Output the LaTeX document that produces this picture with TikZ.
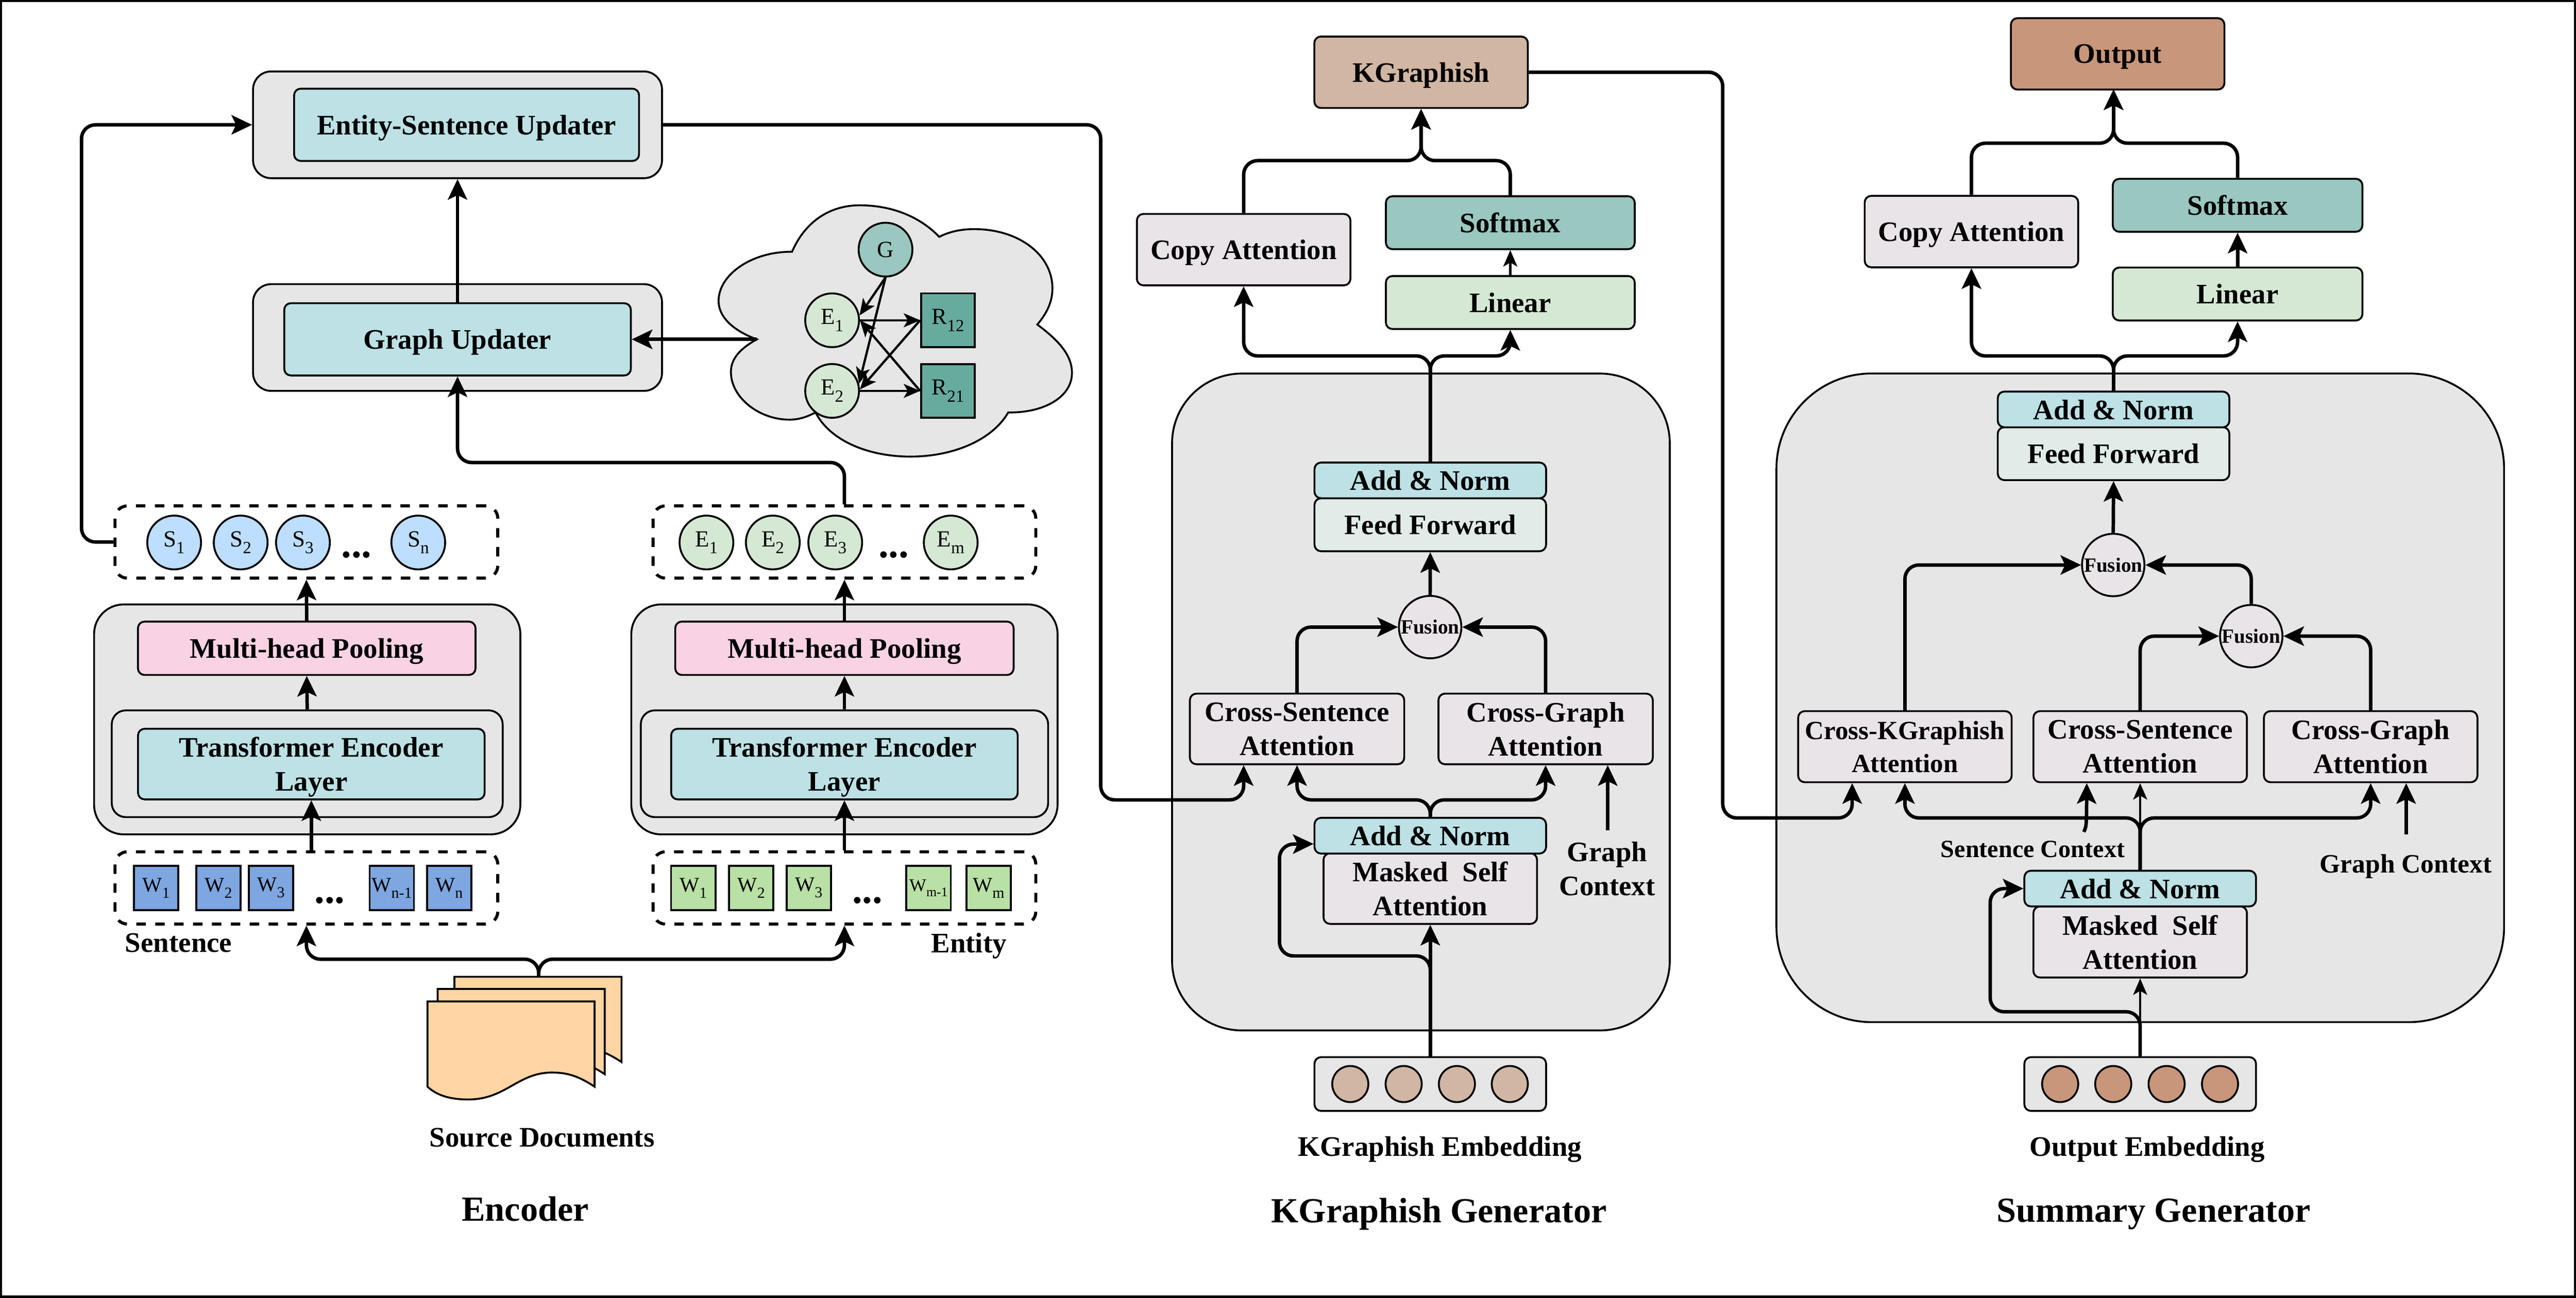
\documentclass[tikz,border=0pt]{standalone}
\usepackage{fontspec}
\setmainfont{Liberation Serif}
\usepackage{tikz}
\usetikzlibrary{arrows.meta}
\definecolor{greybg}{HTML}{E6E6E6}
\definecolor{tealbox}{HTML}{BDE1E5}
\definecolor{pinkbox}{HTML}{F9D2E4}
\definecolor{sblue}{HTML}{BDDEFF}
\definecolor{wblue}{HTML}{7EA6E0}
\definecolor{wgreen}{HTML}{B9E0A5}
\definecolor{egreen}{HTML}{D5E8D4}
\definecolor{gteal}{HTML}{9AC7BF}
\definecolor{rteal}{HTML}{67AB9F}
\definecolor{docorange}{HTML}{FFD5A3}
\definecolor{attnbox}{HTML}{E9E4E8}
\definecolor{ffbox}{HTML}{E1ECE9}
\definecolor{kgbrown}{HTML}{D1B6A3}
\definecolor{outbrown}{HTML}{C8967A}
\tikzset{
  block/.style={draw,rounded corners=0.08cm,line width=0.65pt,inner sep=0,align=center,text depth=0pt,
    font=\fontsize{9.8}{11.8}\selectfont\bfseries},
  outerbox/.style={draw,fill=greybg,rounded corners=0.22cm,line width=0.65pt,inner sep=0},
  dashbox/.style={draw,rounded corners=0.15cm,line width=1.05pt,dash pattern=on 0.115cm off 0.115cm,
    minimum width=4.66cm,minimum height=0.88cm,inner sep=0},
  tok/.style={draw,circle,line width=0.65pt,minimum size=0.655cm,inner sep=0,font=\fontsize{8}{10}\selectfont},
  wtok/.style={draw,rectangle,line width=0.65pt,minimum size=0.54cm,inner sep=0,font=\fontsize{7.2}{9}\selectfont},
  embtok/.style={draw,circle,line width=0.65pt,minimum size=0.44cm,inner sep=0},
  fusionnode/.style={draw,circle,fill=attnbox,line width=0.65pt,minimum size=0.76cm,inner sep=0,
    font=\fontsize{7}{8}\selectfont\bfseries},
  lbl/.style={inner sep=0,align=center,text depth=0pt,font=\fontsize{9.8}{11.8}\selectfont\bfseries},
  titlelbl/.style={inner sep=0,text depth=0pt,font=\fontsize{12.2}{14}\selectfont\bfseries},
  dotslbl/.style={inner sep=0,anchor=base,font=\fontsize{14}{16}\selectfont\bfseries},
  conn/.style={line width=1.2pt,rounded corners=0.17cm,-{Stealth[length=0.25cm,width=0.235cm,inset=0.055cm]}},
  thinconn/.style={line width=0.8pt,-{Stealth[length=0.2cm,width=0.17cm,inset=0.05cm]}},
  docsheet/.style={draw,fill=docorange,line width=0.65pt}
}
\newcommand{\lowsub}[1]{\raisebox{-0.3em}{\scalebox{0.74}{#1}}}
\newcommand{\docoutline}{(260.2,609.7) -- (361.9,609.7) -- (361.9,661.6) .. controls (352,655) and (345,653) .. (336,653) .. controls (315,653) and (308,669.4) .. (285,669.4) .. controls (274,669.4) and (266,667) .. (260.2,661.6) -- cycle}
\begin{document}
\begin{tikzpicture}[x=0.02cm,y=-0.02cm]
\useasboundingbox (0,0) rectangle (1568,790);
\draw[line width=1.6pt] (0,0) rectangle (1568,790);

% encoder
\node[outerbox,minimum width=4.98cm,minimum height=1.30cm] (esout) at (278.5,76) {};
\node[block,fill=tealbox,minimum width=4.2cm,minimum height=0.88cm] (esin) at (284,76) {Entity-Sentence Updater};
\node[outerbox,minimum width=4.98cm,minimum height=1.30cm] (guout) at (278.5,205.5) {};
\node[block,fill=tealbox,minimum width=4.22cm,minimum height=0.88cm] (guin) at (278.5,206.6) {Graph Updater};

\draw[fill=greybg,line width=0.65pt] (482.1,153.3) .. controls (490,135) and (505,125) .. (523.3,125) .. controls (543,125) and (560,132) .. (571.7,144.2) .. controls (578,141) and (585,139.5) .. (593,139.5) .. controls (620,139.5) and (640.6,155) .. (640.6,175.6) .. controls (640.6,184) and (637,191) .. (631.4,197.6) .. controls (644,207) and (652.5,216) .. (652.5,227) .. controls (652.5,242) and (635,251.5) .. (613.7,251.1) .. controls (604,268) and (580,278) .. (554.2,278) .. controls (528,278) and (505,268) .. (496.4,251.1) .. controls (491,254) and (486,255.5) .. (480.5,255.5) .. controls (462,255.5) and (444.9,242) .. (444.9,226.5) .. controls (444.9,218) and (451,212) .. (460.7,206.6) .. controls (448,202) and (437.4,194) .. (437.4,183.2) .. controls (437.4,167) and (458,153) .. (482.1,153.3) -- cycle;
\coordinate (cloudtip) at (460.7,206.6);
\node[tok,fill=gteal] (gnode) at (539,152) {G};
\node[tok,fill=egreen] (e1node) at (506.5,195) {E\lowsub{1}};
\node[tok,fill=egreen] (e2node) at (506.5,238) {E\lowsub{2}};
\node[wtok,fill=rteal,minimum size=0.655cm,font=\fontsize{8}{10}\selectfont] (r12node) at (577,195) {R\lowsub{12}};
\node[wtok,fill=rteal,minimum size=0.655cm,font=\fontsize{8}{10}\selectfont] (r21node) at (577,238) {R\lowsub{21}};
\draw[thinconn] (gnode.south) -- (e1node.10);
\draw[thinconn] (gnode.south) -- (e2node.15);
\draw[thinconn] (e1node.east) -- (r12node.west);
\draw[thinconn] (e2node.east) -- (r21node.west);
\draw[thinconn] (r12node.west) -- (e2node.3);
\draw[thinconn] (r21node.west) -- (e1node.east);

\node[dashbox] (sdash) at (186.5,330) {};
\node[tok,fill=sblue] (s1) at (106,330.3) {S\lowsub{1}};
\node[tok,fill=sblue] (s2) at (146.5,330.3) {S\lowsub{2}};
\node[tok,fill=sblue] (s3) at (184.4,330.3) {S\lowsub{3}};
\node[dotslbl] (sdots) at (217,339.5) {...};
\node[tok,fill=sblue] (sn) at (254.6,330.3) {S\lowsub{n}};
\node[dashbox] (edash) at (514,330) {};
\node[tok,fill=egreen] (ent1) at (430,330.3) {E\lowsub{1}};
\node[tok,fill=egreen] (ent2) at (470.4,330.3) {E\lowsub{2}};
\node[tok,fill=egreen] (ent3) at (508.4,330.3) {E\lowsub{3}};
\node[dotslbl] (edots) at (544,339.5) {...};
\node[tok,fill=egreen] (entm) at (578.7,330.3) {E\lowsub{m}};

\node[outerbox,rounded corners=0.36cm,minimum width=5.19cm,minimum height=2.80cm] (senc) at (187,438) {};
\node[outerbox,rounded corners=0.17cm,minimum width=4.76cm,minimum height=1.30cm] (stfout) at (187,465) {};
\node[block,fill=pinkbox,minimum width=4.11cm,minimum height=0.65cm] (smh) at (186.7,394.7) {Multi-head Pooling};
\node[block,fill=tealbox,minimum width=4.22cm,minimum height=0.86cm] (stf) at (189.5,465.2) {Transformer Encoder\\Layer};
\node[outerbox,rounded corners=0.36cm,minimum width=5.19cm,minimum height=2.80cm] (eenc) at (514,438) {};
\node[outerbox,rounded corners=0.17cm,minimum width=4.96cm,minimum height=1.30cm] (etfout) at (514,465) {};
\node[block,fill=pinkbox,minimum width=4.12cm,minimum height=0.65cm] (emh) at (514,394.7) {Multi-head Pooling};
\node[block,fill=tealbox,minimum width=4.22cm,minimum height=0.86cm] (etf) at (514,465.2) {Transformer Encoder\\Layer};

\node[dashbox] (wsdash) at (186.5,540.6) {};
\node[wtok,fill=wblue] (ws1) at (95,540.6) {W\lowsub{1}};
\node[wtok,fill=wblue] (ws2) at (133,540.6) {W\lowsub{2}};
\node[wtok,fill=wblue] (ws3) at (165,540.6) {W\lowsub{3}};
\node[dotslbl] (wsdots) at (200.7,550) {...};
\node[wtok,fill=wblue] (wsn1) at (238.5,540.6) {W\lowsub{n-1}};
\node[wtok,fill=wblue] (wsn) at (273.4,540.6) {W\lowsub{n}};
\node[dashbox] (wedash) at (514,540.6) {};
\node[wtok,fill=wgreen] (we1) at (422,540.6) {W\lowsub{1}};
\node[wtok,fill=wgreen] (we2) at (457.3,540.6) {W\lowsub{2}};
\node[wtok,fill=wgreen] (we3) at (492.3,540.6) {W\lowsub{3}};
\node[dotslbl] (wedots) at (528,550) {...};
\node[wtok,fill=wgreen,font=\fontsize{6.2}{8}\selectfont] (wem1) at (565.2,540.6) {W\lowsub{m-1}};
\node[wtok,fill=wgreen] (wem) at (601.8,540.6) {W\lowsub{m}};
\node[lbl] (sentlbl) at (108.7,574) {Sentence};
\node[lbl] (entlbl) at (589.8,574) {Entity};

\draw[docsheet,shift={(16.4,-15)}] \docoutline;
\draw[docsheet,shift={(6.2,-7.6)}] \docoutline;
\draw[docsheet] \docoutline;
\coordinate (doctop) at (327.9,594.6);
\coordinate (docjoin) at (327.9,584);
\node[lbl] (doclbl) at (330,692.5) {Source Documents};
\node[titlelbl] (enctitle) at (319.7,736) {Encoder};

\draw[conn] (doctop) -- (docjoin) -| (wsdash.south);
\draw[conn] (doctop) -- (docjoin) -| (wedash.south);
\draw[conn] (stf.south |- wsdash.north) -- (stf.south);
\draw[conn] (etf.south |- wedash.north) -- (etf.south);
\draw[conn] (stfout.north) -- (smh.south);
\draw[conn] (etfout.north) -- (emh.south);
\draw[conn] (smh.north) -- (sdash.south);
\draw[conn] (emh.north) -- (edash.south);
\draw[conn] (sdash.west) -| (49.6,76) -- (esout.west);
\draw[conn] (edash.north) -- (514,281.6) -| (guin.south);
\draw[conn] (guin.north) -- (esout.south);
\draw[conn] (cloudtip) -- (guin.east);

% kgraphish generator
\node[outerbox,rounded corners=0.85cm,minimum width=6.06cm,minimum height=8.0cm] (kbig) at (864.9,427.4) {};
\node[block,fill=kgbrown,minimum width=2.6cm,minimum height=0.87cm] (kgout) at (865,44) {KGraphish};
\node[block,fill=attnbox,minimum width=2.6cm,minimum height=0.87cm] (kcopy) at (757,152) {Copy Attention};
\node[block,fill=gteal,minimum width=3.03cm,minimum height=0.645cm] (ksoft) at (919.3,135.6) {Softmax};
\node[block,fill=egreen,minimum width=3.03cm,minimum height=0.645cm] (klin) at (919.3,184.2) {Linear};
\node[block,fill=ffbox,minimum width=2.82cm,minimum height=0.645cm] (kff) at (870.6,319.5) {Feed Forward};
\node[block,fill=tealbox,minimum width=2.82cm,minimum height=0.435cm] (kan) at (870.6,292.5) {Add \& Norm};
\node[fusionnode] (kfus) at (870.5,381.8) {Fusion};
\node[block,fill=attnbox,minimum width=2.61cm,minimum height=0.86cm] (kcs) at (789.5,443.8) {Cross-Sentence\\Attention};
\node[block,fill=attnbox,minimum width=2.61cm,minimum height=0.86cm] (kcg) at (940.8,443.8) {Cross-Graph\\Attention};
\node[block,fill=attnbox,minimum width=2.6cm,minimum height=0.86cm] (kms) at (870.6,541) {Masked~~Self\\Attention};
\node[block,fill=tealbox,minimum width=2.82cm,minimum height=0.435cm] (kan2) at (870.6,508.8) {Add \& Norm};
\node[lbl] (kgctx) at (978.3,529) {Graph\\Context};
\coordinate (kgctxtop) at (978.6,505.5);
\node[block,fill=greybg,minimum width=2.82cm,minimum height=0.655cm] (kemb) at (870.6,660) {};
\node[embtok,fill=kgbrown] (kemb1) at (821.9,660) {};
\node[embtok,fill=kgbrown] (kemb2) at (854.4,660) {};
\node[embtok,fill=kgbrown] (kemb3) at (886.8,660) {};
\node[embtok,fill=kgbrown] (kemb4) at (919,660) {};
\node[lbl] (kemblbl) at (876.4,698) {KGraphish Embedding};
\node[titlelbl] (ktitle) at (876,737) {KGraphish Generator};

\draw[conn] (kemb.north) -- (kms.south);
\draw[conn] (kemb.north) -- (870.6,582) -| (778.8,514) -- ([yshift=-0.1cm]kan2.west);
\draw[conn] (kan2.north) -- (870.6,487) -| (kcs.south);
\draw[conn] (kan2.north) -- (870.6,487) -| (kcg.south);
\draw[conn] (esout.east) -| (670,487) -| ([xshift=-0.65cm]kcs.south);
\draw[conn] (kgctxtop) -- (kgctxtop |- kcg.south);
\draw[conn] (kcs.north) |- (kfus.west);
\draw[conn] (kcg.north) |- (kfus.east);
\draw[conn] (kfus.north) -- (kff.south);
\draw[conn] (kan.north) -- (870.6,216.7) -| (kcopy.south);
\draw[conn] (kan.north) -- (870.6,216.7) -| (klin.south);
\draw[thinconn] (klin.north) -- (ksoft.south);
\draw[conn] (kcopy.north) |- (865,97.8) -- (kgout.south);
\draw[conn] (ksoft.north) |- (865,97.8) -- (kgout.south);

% summary generator
\node[outerbox,rounded corners=1.16cm,minimum width=8.86cm,minimum height=7.9cm] (sbig) at (1302.75,424.85) {};
\node[block,fill=outbrown,minimum width=2.6cm,minimum height=0.87cm] (sout) at (1289,32.8) {Output};
\node[block,fill=attnbox,minimum width=2.6cm,minimum height=0.87cm] (scopy) at (1200,141) {Copy Attention};
\node[block,fill=gteal,minimum width=3.04cm,minimum height=0.645cm] (ssoft) at (1362,125) {Softmax};
\node[block,fill=egreen,minimum width=3.04cm,minimum height=0.645cm] (slin) at (1362,179) {Linear};
\node[block,fill=ffbox,minimum width=2.82cm,minimum height=0.645cm] (sff) at (1286.5,276.2) {Feed Forward};
\node[block,fill=tealbox,minimum width=2.82cm,minimum height=0.435cm] (san) at (1286.5,249.3) {Add \& Norm};
\node[fusionnode] (sfus1) at (1286.3,344) {Fusion};
\node[fusionnode] (sfus2) at (1370.3,387.3) {Fusion};
\node[block,fill=attnbox,minimum width=2.6cm,minimum height=0.866cm,font=\fontsize{9.1}{11.4}\selectfont\bfseries] (sckg) at (1159.5,454.6) {Cross-KGraphish\\Attention};
\node[block,fill=attnbox,minimum width=2.6cm,minimum height=0.866cm] (scs) at (1302.7,454.6) {Cross-Sentence\\Attention};
\node[block,fill=attnbox,minimum width=2.6cm,minimum height=0.866cm] (scg) at (1443,454.6) {Cross-Graph\\Attention};
\node[block,fill=attnbox,minimum width=2.6cm,minimum height=0.866cm] (sms) at (1302.7,573.5) {Masked~~Self\\Attention};
\node[block,fill=tealbox,minimum width=2.82cm,minimum height=0.435cm] (san2) at (1302.7,541) {Add \& Norm};
\node[lbl,font=\fontsize{8.6}{10}\selectfont\bfseries] (sctxlbl) at (1237.3,517) {Sentence Context};
\node[lbl,font=\fontsize{9.2}{11}\selectfont\bfseries] (gctxlbl) at (1464.3,525.7) {Graph Context};
\coordinate (sctxtop) at (1268.4,506.5);
\coordinate (gctxtop) at (1464.6,508);
\node[block,fill=greybg,minimum width=2.82cm,minimum height=0.655cm] (semb) at (1302.7,660) {};
\node[embtok,fill=outbrown] (semb1) at (1254,660) {};
\node[embtok,fill=outbrown] (semb2) at (1286.3,660) {};
\node[embtok,fill=outbrown] (semb3) at (1318.8,660) {};
\node[embtok,fill=outbrown] (semb4) at (1351.3,660) {};
\node[lbl] (semblbl) at (1307,698) {Output Embedding};
\node[titlelbl] (stitle) at (1311,737) {Summary Generator};

\draw[thinconn] (semb.north) -- (sms.south);
\draw[conn] (semb.north) -- (1302.7,616) -| (1211.4,541) -- (san2.west);
\draw[thinconn] (san2.north) -- (scs.south);
\draw[conn] (san2.north) -- (1302.7,498) -| (sckg.south);
\draw[conn] (san2.north) -- (1302.7,498) -| (scg.south);
\draw[conn] (kgout.east) -| (1048.6,498) -| ([xshift=-0.642cm]sckg.south);
\draw[conn] (sctxtop) .. controls (1270,503) .. ([xshift=-0.65cm]scs.south);
\draw[conn] (gctxtop) -- (gctxtop |- scg.south);
\draw[conn] (scs.north) |- (sfus2.west);
\draw[conn] (scg.north) |- (sfus2.east);
\draw[conn] (sckg.north) |- (sfus1.west);
\draw[conn] (sfus2.north) |- (sfus1.east);
\draw[conn] (sfus1.north) -- (sff.south);
\draw[conn] (san.north) -- (1286.5,216.7) -| (scopy.south);
\draw[conn] (san.north) -- (1286.5,216.7) -| (slin.south);
\draw[conn] (slin.north) -- (ssoft.south);
\draw[conn] (scopy.north) |- (1286.5,87.2) -- (1286.5,54.4);
\draw[conn] (ssoft.north) |- (1286.5,87.2) -- (1286.5,54.4);

\end{tikzpicture}
\end{document}
